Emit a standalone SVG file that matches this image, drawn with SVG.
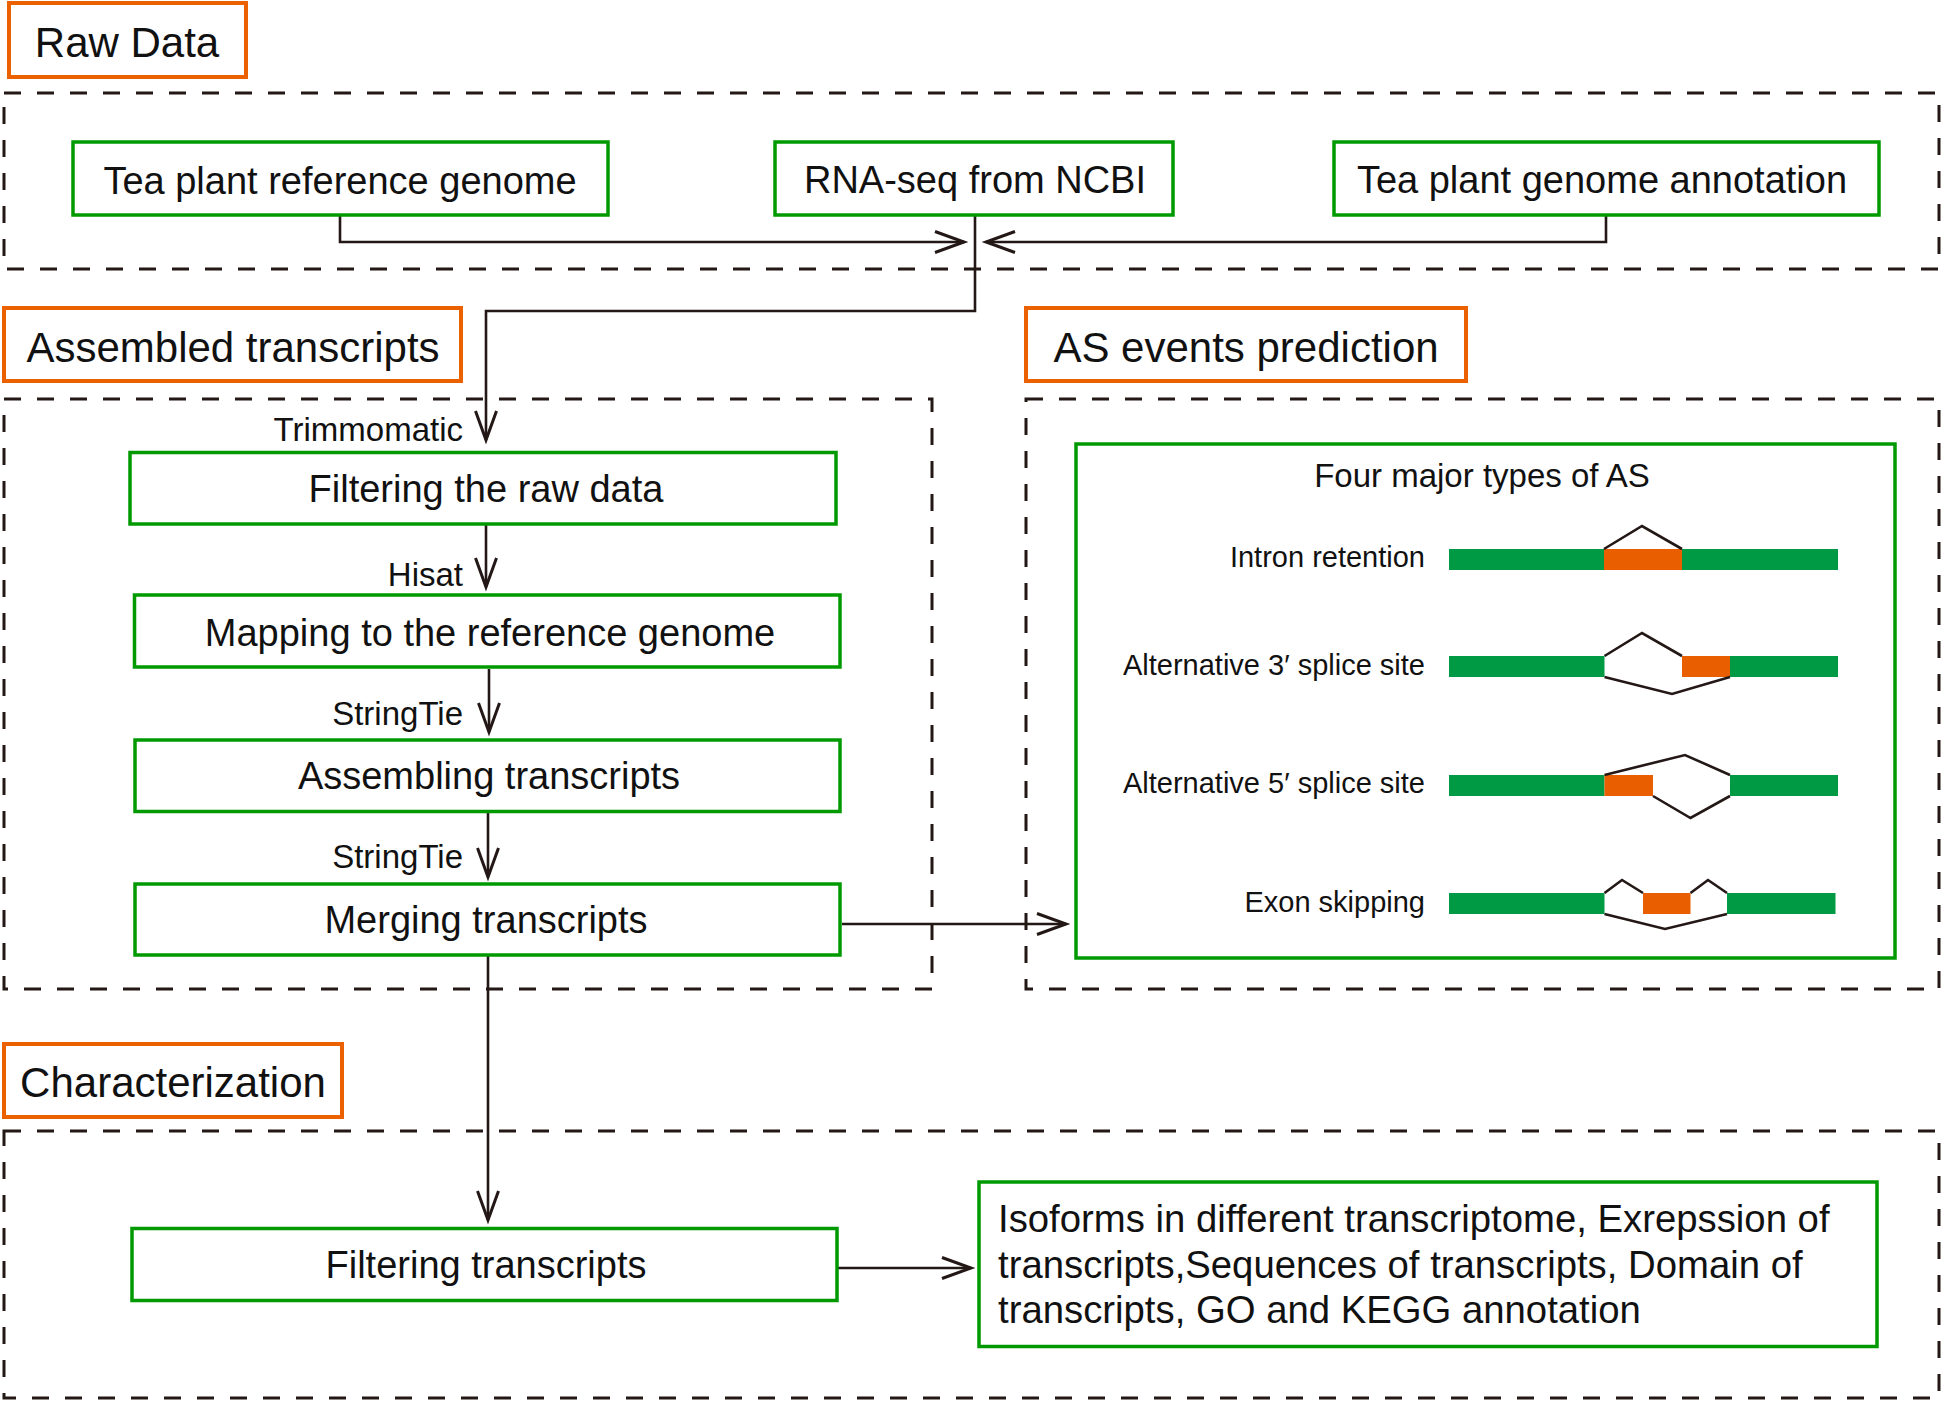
<svg xmlns="http://www.w3.org/2000/svg" width="1944" height="1402" viewBox="0 0 1944 1402">
<style>
text{font-family:"Liberation Sans",Arial,Helvetica,sans-serif;fill:#111}
.hdr{fill:#fff;stroke:#eb6100;stroke-width:4}
.box{fill:#fff;stroke:#009a00;stroke-width:3.5}
.dash{fill:none;stroke:#231815;stroke-width:3;stroke-dasharray:17 16}
.conn{fill:none;stroke:#231815;stroke-width:2.6}
.ht{font-size:42px;text-anchor:middle}
.bt{font-size:38px;text-anchor:middle}
.lab{font-size:33px;text-anchor:end}
.ast{font-size:29px;text-anchor:end}
.bar{fill:#009944}
.alt{fill:#e95f00}
.spl{fill:none;stroke:#231815;stroke-width:2.6;stroke-linejoin:miter}
</style>
<defs>
<marker id="ah" markerUnits="userSpaceOnUse" markerWidth="40" markerHeight="30" viewBox="-32 -15 40 30" refX="0" refY="0" orient="auto" overflow="visible">
<path d="M-29,-10.5 L0,0 L-29,10.5" fill="none" stroke="#231815" stroke-width="3"/>
</marker>
</defs>
<rect width="1944" height="1402" fill="#fff"/>

<g id="frames">
<rect class="dash" x="4" y="93" width="1935" height="176"/>
<rect class="dash" x="4" y="399" width="928" height="590"/>
<rect class="dash" x="1026" y="399" width="913" height="590"/>
<rect class="dash" x="4" y="1131" width="1935" height="267"/>
</g>

<g id="connectors">
<path class="conn" d="M340,216 V242 H964" marker-end="url(#ah)"/>
<path class="conn" d="M1606,216 V242 H986" marker-end="url(#ah)"/>
<path class="conn" d="M975,216 V311 H486 V440" marker-end="url(#ah)"/>
<path class="conn" d="M486,524 V587" marker-end="url(#ah)"/>
<path class="conn" d="M489,669 V732" marker-end="url(#ah)"/>
<path class="conn" d="M488,813 V877" marker-end="url(#ah)"/>
<path class="conn" d="M842,924 H1066" marker-end="url(#ah)"/>
<path class="conn" d="M488,956 V1220" marker-end="url(#ah)"/>
<path class="conn" d="M837,1268 H971" marker-end="url(#ah)"/>
</g>

<g id="hdr-raw"><rect class="hdr" x="9" y="3" width="237" height="74"/><text class="ht" x="127" y="57">Raw Data</text></g>
<g id="hdr-assembled"><rect class="hdr" x="4" y="308" width="457" height="73"/><text class="ht" x="233" y="362">Assembled transcripts</text></g>
<g id="hdr-as"><rect class="hdr" x="1026" y="308" width="440" height="73"/><text class="ht" x="1246" y="362">AS events prediction</text></g>
<g id="hdr-char"><rect class="hdr" x="4" y="1044" width="338" height="73"/><text class="ht" x="173" y="1097">Characterization</text></g>

<g id="n-tearef"><rect class="box" x="73" y="142" width="535" height="73"/><text class="bt" x="340" y="194">Tea plant reference genome</text></g>
<g id="n-rnaseq"><rect class="box" x="775" y="142" width="398" height="73"/><text class="bt" x="975" y="193">RNA-seq from NCBI</text></g>
<g id="n-annot"><rect class="box" x="1334" y="142" width="545" height="73"/><text class="bt" x="1602" y="193">Tea plant genome annotation</text></g>

<g id="n-filter-raw"><rect class="box" x="130" y="452.5" width="706" height="71.5"/><text class="bt" x="486" y="501.5">Filtering the raw data</text></g>
<g id="n-mapping"><rect class="box" x="134.5" y="595" width="705.5" height="72"/><text class="bt" x="490" y="646">Mapping to the reference genome</text></g>
<g id="n-assembling"><rect class="box" x="135" y="740" width="705" height="71.5"/><text class="bt" x="489" y="789">Assembling transcripts</text></g>
<g id="n-merging"><rect class="box" x="135" y="884" width="705" height="71"/><text class="bt" x="486" y="933">Merging transcripts</text></g>
<g id="n-filter-tr"><rect class="box" x="132" y="1228.5" width="705" height="72"/><text class="bt" x="486" y="1278">Filtering transcripts</text></g>

<g id="labels">
<text class="lab" x="463" y="441">Trimmomatic</text>
<text class="lab" x="463" y="586">Hisat</text>
<text class="lab" x="463" y="725">StringTie</text>
<text class="lab" x="463" y="868">StringTie</text>
</g>

<g id="n-isoforms"><rect class="box" x="979" y="1182" width="898" height="164.5"/>
<text font-size="38.3" x="998" y="1232">Isoforms in different transcriptome, Exrepssion of</text>
<text font-size="38.3" x="998" y="1278">transcripts,Sequences of transcripts, Domain of</text>
<text font-size="38.3" x="998" y="1323">transcripts, GO and KEGG annotation</text>
</g>

<g id="n-as-types">
<rect class="box" x="1076" y="444" width="819" height="514"/>
<text x="1482" y="487" font-size="33" text-anchor="middle">Four major types of AS</text>
<text class="ast" x="1425" y="567">Intron retention</text>
<rect class="bar" x="1449" y="549" width="389" height="21"/>
<rect class="alt" x="1604" y="549" width="78" height="21"/>
<path class="spl" d="M1604,549 L1642,526 L1682,549"/>

<text class="ast" x="1425" y="675">Alternative 3′ splice site</text>
<rect class="bar" x="1449" y="656" width="155.5" height="21"/>
<rect class="alt" x="1682" y="656" width="48" height="21"/>
<rect class="bar" x="1730" y="656" width="108" height="21"/>
<path class="spl" d="M1604.5,656 L1642,633 L1682,656"/>
<path class="spl" d="M1604.5,677 L1672,694 L1730,677"/>

<text class="ast" x="1425" y="793">Alternative 5′ splice site</text>
<rect class="bar" x="1449" y="775" width="155.5" height="21"/>
<rect class="alt" x="1604.5" y="775" width="48.5" height="21"/>
<rect class="bar" x="1730" y="775" width="108" height="21"/>
<path class="spl" d="M1604.5,775 L1685,755 L1730,775"/>
<path class="spl" d="M1653,796 L1690.5,818 L1730,796"/>

<text class="ast" x="1425" y="912">Exon skipping</text>
<rect class="bar" x="1449" y="893" width="155.5" height="21"/>
<rect class="alt" x="1643" y="893" width="47.5" height="21"/>
<rect class="bar" x="1727" y="893" width="108.5" height="21"/>
<path class="spl" d="M1604.5,893 L1622,880 L1643,893"/>
<path class="spl" d="M1690.5,893 L1708,880 L1727,893"/>
<path class="spl" d="M1604.5,914 L1665,929 L1727,914"/>
</g>
</svg>
